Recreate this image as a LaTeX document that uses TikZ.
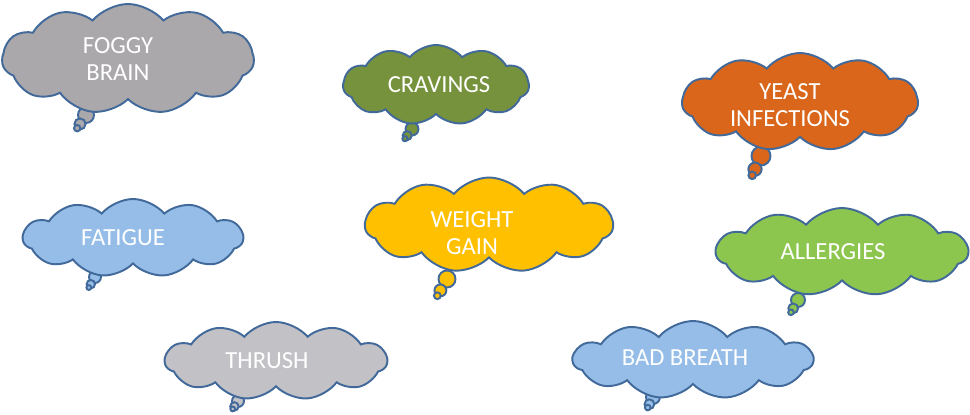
\documentclass[tikz,border=0pt]{standalone}
\usepackage{fontspec}
\setmainfont{Carlito}
\usepackage{xcolor}
\usetikzlibrary{shapes.symbols,calc}

\definecolor{cloudline}{HTML}{41699A}
\definecolor{foggygray}{HTML}{ABA8AC}
\definecolor{cravingolive}{HTML}{76923C}
\definecolor{yeastorange}{HTML}{D9661A}
\definecolor{weightgold}{HTML}{FFC000}
\definecolor{skyblue}{HTML}{95BDE8}
\definecolor{allergygreen}{HTML}{8DC64E}
\definecolor{thrushgray}{HTML}{C2C1C6}

\begin{document}
\begin{tikzpicture}[x=0.02cm,y=-0.02cm,
  thought/.style={cloud,draw=cloudline,line width=1.1pt,cloud puffs=11,cloud puff arc=100,
    cloud ignores aspect,inner sep=0pt},
  word/.style={text=white,align=center,font=\fontsize{14}{15.5}\selectfont},
  bubble/.style={draw=cloudline,line width=1.1pt}]
\useasboundingbox (0,0) rectangle (970,415);

% thought bubbles: big x / big y / radius / tip x / tip y / fill
\foreach \bx/\by/\br/\tx/\ty/\fc in {86/115/8/76/130/foggygray,412/129/6.5/404/140/cravingolive,
    761/156/9.5/751/178/yeastorange,95/277/6/88/289/skyblue,447/279/8.5/436/298/weightgold,
    798/300/7/790/314/allergygreen,238/401/6/232/410/thrushgray,653/397/7/647/409/skyblue}{
  \draw[bubble,fill=\fc] (\bx,\by) circle (\br);
  \draw[bubble,fill=\fc] ($(\tx,\ty)!0.4!(\bx,\by)$) circle ({0.7*\br});
  \draw[bubble,fill=\fc] ($(\tx,\ty)!0.12!(\bx,\by)$) circle ({0.4*\br});
}

\node[thought,fill=foggygray,minimum width=5.04cm,minimum height=2.2cm,
  label={[word,xshift=-0.2cm]center:FOGGY\\BRAIN}] (foggy) at (128,59) {};
\node[thought,fill=cravingolive,minimum width=3.72cm,minimum height=1.6cm,
  label={[word,xshift=0.06cm]center:CRAVINGS}] (cravings) at (436,85) {};
\node[thought,fill=yeastorange,minimum width=4.72cm,minimum height=1.96cm,
  label={[word,xshift=-0.2cm,yshift=-0.06cm]center:YEAST\\INFECTIONS}] (yeast) at (800,102) {};
\node[thought,fill=skyblue,minimum width=4.4cm,minimum height=1.56cm,
  label={[word,xshift=-0.2cm]center:FATIGUE}] (fatigue) at (133,238) {};
\node[thought,fill=weightgold,minimum width=4.96cm,minimum height=1.9cm,
  label={[word,xshift=-0.34cm,yshift=-0.16cm]center:WEIGHT\\GAIN}] (weight) at (489,225) {};
\node[thought,fill=allergygreen,minimum width=5.04cm,minimum height=1.76cm,
  label={[word,xshift=-0.18cm]center:ALLERGIES}] (allergies) at (842,252) {};
\node[thought,fill=thrushgray,minimum width=4.44cm,minimum height=1.56cm,
  label={[word,xshift=-0.18cm]center:THRUSH}] (thrush) at (276,361) {};
\node[thought,fill=skyblue,minimum width=4.8cm,minimum height=1.56cm,
  label={[word,xshift=-0.16cm,yshift=0.04cm]center:BAD BREATH}] (breath) at (693,360) {};
\end{tikzpicture}
\end{document}
